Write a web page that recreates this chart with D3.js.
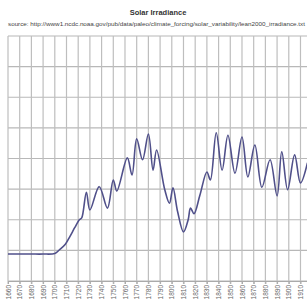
<!DOCTYPE html>
<html>
<head>
<meta charset="utf-8">
<script src="https://cdn.jsdelivr.net/npm/d3@7"></script>
<style>
  html, body { margin: 0; padding: 0; background: #fff; overflow: hidden; }
  svg { display: block; font-family: "Liberation Sans", Arial, sans-serif; }
</style>
</head>
<body>
<svg id="chart" width="307" height="302"></svg>
<script>
// ---- data ----
const title = "Solar Irradiance";
const sourceText = "source: http://www1.ncdc.noaa.gov/pub/data/paleo/climate_forcing/solar_variability/lean2000_irradiance.txt";

const years = [1660,1670,1680,1690,1700,1704,1709,1713,1717,1721,1723,1727,1730,1738,1745,1750,1753,1762,1766,1770,1775,1780,1784,1787,1794,1798,1801,1805,1810,1814,1816,1819,1824,1830,1833,1838,1843,1848,1854,1860,1865,1871,1877,1884,1890,1894,1899,1905,1910,1916];
const irradiance = [1363.44,1363.44,1363.44,1363.44,1363.45,1363.51,1363.60,1363.73,1363.87,1364.00,1364.03,1364.45,1364.16,1364.54,1364.19,1364.65,1364.47,1365.01,1364.73,1365.32,1364.98,1365.40,1364.81,1365.14,1364.49,1364.27,1364.52,1364.13,1363.80,1364.00,1364.19,1364.10,1364.40,1364.78,1364.65,1365.42,1364.81,1365.38,1364.76,1365.35,1364.70,1365.22,1364.53,1364.98,1364.39,1365.11,1364.49,1365.06,1364.60,1364.93];

const xTickYears = [1660,1670,1680,1690,1700,1710,1720,1730,1740,1750,1760,1770,1780,1790,1800,1810,1820,1830,1840,1850,1860,1870,1880,1890,1900,1910];
const yTicks = [1363,1363.5,1364,1364.5,1365,1365.5,1366,1366.5,1367];

// ---- drawing ----
const svg = d3.select("#chart");
const plot = { left: 8, right: 307.5, top: 36, bottom: 281 };

const x = d3.scaleLinear().domain([1660, 1916]).range([plot.left, plot.right]);
const y = d3.scaleLinear().domain([1363, 1367]).range([plot.bottom, plot.top]);

// title & source
svg.append("text")
  .attr("x", 158).attr("y", 15)
  .attr("text-anchor", "middle")
  .attr("font-size", 7.5).attr("font-weight", "bold").attr("fill", "#333")
  .text(title);
svg.append("text")
  .attr("x", 8).attr("y", 26)
  .attr("font-size", 6.1).attr("fill", "#444")
  .attr("textLength", 297).attr("lengthAdjust", "spacingAndGlyphs")
  .text(sourceText);

// horizontal grid
svg.append("g").selectAll("line").data(yTicks).join("line")
  .attr("x1", plot.left).attr("x2", 307)
  .attr("y1", d => y(d)).attr("y2", d => y(d))
  .attr("stroke", "#b8b8b8").attr("stroke-width", 1.2);

// vertical grid
svg.append("g").selectAll("line").data(xTickYears).join("line")
  .attr("x1", d => x(d)).attr("x2", d => x(d))
  .attr("y1", plot.top).attr("y2", plot.bottom + 3)
  .attr("stroke", "#bebebe").attr("stroke-width", 1.2);

// x axis via d3 axis (labels rotated)
const xAxis = d3.axisBottom(x).tickValues(xTickYears).tickFormat(d3.format("d")).tickSize(3);
const gx = svg.append("g").attr("transform", `translate(0,${plot.bottom})`).call(xAxis);
gx.select(".domain").attr("stroke", "#aaa");
gx.selectAll(".tick line").attr("stroke", "#aaa");
gx.selectAll(".tick text")
  .attr("font-size", 6.5).attr("fill", "#666")
  .attr("text-anchor", "end")
  .attr("transform", "rotate(-90)")
  .attr("x", -4).attr("y", 0).attr("dy", "0.32em");

// line
const pts = years.map((yr, i) => [yr, irradiance[i]]);
const line = d3.line().x(d => x(d[0])).y(d => y(d[1])).curve(d3.curveCatmullRom.alpha(0.5));
svg.append("path")
  .datum(pts)
  .attr("d", line)
  .attr("fill", "none")
  .attr("stroke", "#50508a")
  .attr("stroke-width", 1.6);
</script>
</body>
</html>
